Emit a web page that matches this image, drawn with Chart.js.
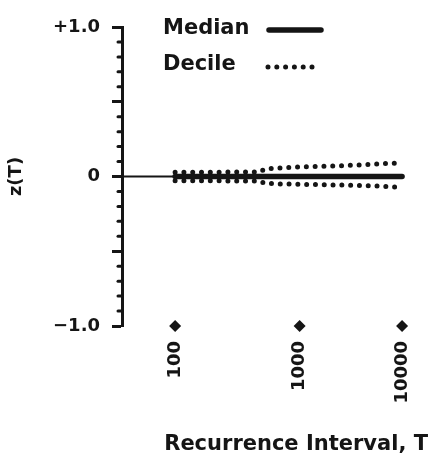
<!DOCTYPE html>
<html>
<head>
<meta charset="utf-8">
<script src="https://cdn.jsdelivr.net/npm/chart.js@4.4.1/dist/chart.umd.min.js"></script>
<style>
  html, body { margin:0; padding:0; background:#fff; }
  #wrap { width:431px; height:457px; }
</style>
</head>
<body>
<div id="wrap"><canvas id="c" width="431" height="457"></canvas></div>
<script>
// ── data (recurrence interval T, z-values) ─────────────────────
const X_T_MIN = 44;        // left end of axis
const X_T_MAX = 19000;     // right end of axis
const TICK_T  = [100, 1000, 10000];

const BASE_T   = [X_T_MIN, 100];
const BASE_Z   = [0, 0];

const MEDIAN_T = [100, 1000, 10000];
const MEDIAN_Z = [0, 0, 0];

const DECILE_T     = [100, 200, 300, 450, 500, 700, 1000, 2000, 3000, 5000, 7000, 10000];
const DECILE_UPPER = [0.028, 0.029, 0.030, 0.031, 0.050, 0.058, 0.064, 0.070, 0.075, 0.082, 0.087, 0.092];
const DECILE_LOWER = [-0.028, -0.029, -0.030, -0.031, -0.046, -0.050, -0.052, -0.056, -0.059, -0.063, -0.067, -0.075];

const INK  = "#151515";
const FONT = "DejaVu Sans";

Chart.defaults.font.family = FONT;
Chart.defaults.color = INK;

// normal probability axis: T -> standard normal variate of (1 - 1/T)
function zOf(T) {
  const c = [-7.784894002430293e-03,-3.223964580411365e-01,-2.400758277161838e+00,
             -2.549732539343734e+00, 4.374664141464968e+00, 2.938163982698783e+00];
  const d = [7.784695709041462e-03, 3.224671290700398e-01, 2.445134137142996e+00, 3.754408661907416e+00];
  const q = Math.sqrt(-2 * Math.log(1 / T));
  return -(((((c[0]*q+c[1])*q+c[2])*q+c[3])*q+c[4])*q+c[5]) / ((((d[0]*q+d[1])*q+d[2])*q+d[3])*q+1);
}

const pts = (ts, vs) => ts.map((t, i) => ({ x: zOf(t), y: vs[i] }));
const isMajor = v => Math.abs(v * 2 - Math.round(v * 2)) < 1e-6;

// minor y ticks, diamonds on x ticks, legend with text before sample
const decor = {
  id: "decor",
  afterDraw(chart) {
    const { ctx, chartArea: a, scales: { x, y } } = chart;
    ctx.save();
    ctx.strokeStyle = INK; ctx.fillStyle = INK;
    ctx.lineWidth = 3; ctx.lineCap = "round";
    y.ticks.forEach(t => {
      if (isMajor(t.value)) return;
      const py = y.getPixelForValue(t.value);
      ctx.beginPath(); ctx.moveTo(a.left - 4, py); ctx.lineTo(a.left, py); ctx.stroke();
    });
    x.ticks.forEach(t => {
      const px = x.getPixelForValue(t.value), py = a.bottom, r = 6;
      ctx.beginPath();
      ctx.moveTo(px - r, py); ctx.lineTo(px, py - r); ctx.lineTo(px + r, py); ctx.lineTo(px, py + r);
      ctx.closePath(); ctx.fill();
    });
    // legend
    const rows = [
      { ds: chart.data.datasets[1], ty: a.top + 6.5, ly: a.top + 3,  x1: a.left + 147, x2: a.left + 199 },
      { ds: chart.data.datasets[2], ty: a.top + 42.5, ly: a.top + 40, x1: a.left + 146, x2: a.left + 191 },
    ];
    ctx.font = "bold 21px " + FONT;
    ctx.textBaseline = "alphabetic"; ctx.textAlign = "left";
    rows.forEach(r => {
      ctx.fillText(r.ds.label, a.left + 41, r.ty);
      ctx.lineWidth = r.ds.borderWidth;
      ctx.setLineDash(r.ds.borderDash || []);
      ctx.beginPath(); ctx.moveTo(r.x1, r.ly); ctx.lineTo(r.x2, r.ly); ctx.stroke();
    });
    ctx.restore();
  }
};

const dotted = { borderColor: INK, borderWidth: 5, borderDash: [0, 8.8], borderCapStyle: "round", pointRadius: 0, fill: false };

new Chart(document.getElementById("c"), {
  type: "line",
  data: {
    datasets: [
      { label: "base",   data: pts(BASE_T, BASE_Z),     borderColor: INK, borderWidth: 2, pointRadius: 0 },
      { label: "Median", data: pts(MEDIAN_T, MEDIAN_Z), borderColor: INK, borderWidth: 5.5, borderCapStyle: "round", pointRadius: 0 },
      { label: "Decile", data: pts(DECILE_T, DECILE_UPPER), ...dotted },
      { label: "Decile", data: pts(DECILE_T, DECILE_LOWER), ...dotted },
    ],
  },
  options: {
    responsive: false, animation: false,
    layout: { padding: { top: 27, right: 3, left: 0, bottom: 0 } },
    plugins: { legend: { display: false }, tooltip: { enabled: false } },
    scales: {
      x: {
        type: "linear", min: zOf(X_T_MIN), max: zOf(X_T_MAX),
        afterBuildTicks: s => { s.ticks = TICK_T.map(t => ({ value: zOf(t) })); },
        afterFit: s => { s.height = 131; s.paddingLeft = 0; s.paddingRight = 0; },
        grid: { display: false, drawTicks: false },
        border: { display: false },
        ticks: { autoSkip: false, minRotation: 90, maxRotation: 90, padding: 15,
                 font: { size: 18, weight: "bold" },
                 callback: (v, i) => String(TICK_T[i]) },
        title: { display: true, text: "Recurrence Interval, T", align: "end",
                 font: { size: 21, weight: "bold" }, padding: { top: 0, bottom: 0 } },
      },
      y: {
        min: -1, max: 1,
        afterFit: s => { s.width = 122; },
        ticks: { stepSize: 0.1, autoSkip: false, padding: 12, font: { size: 18, weight: "bold" },
                 callback: v => Math.abs(v - 1) < 1e-6 ? "+1.0" : Math.abs(v + 1) < 1e-6 ? "\u22121.0" : Math.abs(v) < 1e-6 ? "0" : "" },
        grid: { drawOnChartArea: false, drawTicks: true, tickLength: 10, tickWidth: 3,
                tickColor: c => isMajor(c.tick.value) ? INK : "transparent" },
        border: { display: true, color: INK, width: 3 },
        title: { display: true, text: "z(T)", font: { size: 18, weight: "bold" }, padding: { top: 6, bottom: 0 } },
      },
    },
  },
  plugins: [decor],
});
</script>
</body>
</html>
